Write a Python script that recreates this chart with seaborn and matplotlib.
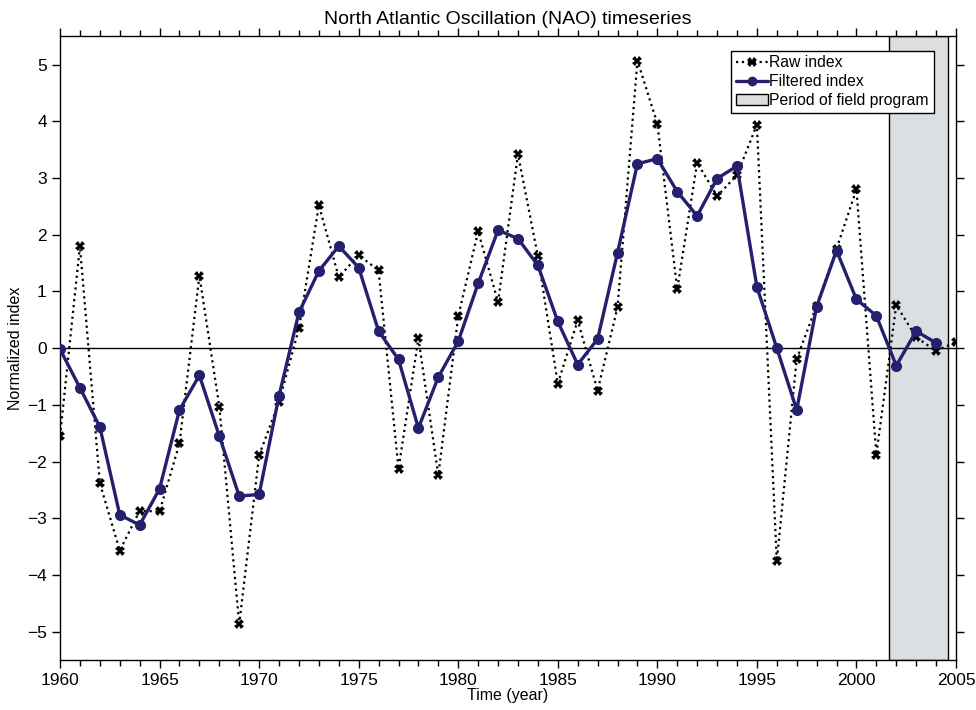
import numpy as np
import pandas as pd
import matplotlib
matplotlib.use("Agg")
import matplotlib.pyplot as plt
from matplotlib.lines import Line2D
from matplotlib.patches import Patch
from matplotlib.ticker import MultipleLocator
import seaborn as sns

# Winter NAO index, normalized
raw_years = list(range(1960, 2006))
raw_index = [-1.55, 1.80, -2.38, -3.57, -2.87, -2.88, -1.68, 1.28, -1.03, -4.87,
             -1.89, -0.95, 0.35, 2.52, 1.25, 1.64, 1.37, -2.13, 0.17, -2.24,
             0.56, 2.06, 0.81, 3.42, 1.62, -0.63, 0.49, -0.75, 0.72, 5.07,
             3.96, 1.04, 3.27, 2.68, 3.05, 3.94, -3.76, -0.19, 0.75, 1.75,
             2.80, -1.88, 0.76, 0.19, -0.05, 0.11]

filt_years = list(range(1960, 2005))
filt_index = [-0.02, -0.70, -1.39, -2.94, -3.12, -2.48, -1.09, -0.48, -1.55, -2.61,
              -2.58, -0.84, 0.63, 1.36, 1.80, 1.42, 0.30, -0.20, -1.41, -0.51,
              0.12, 1.14, 2.08, 1.93, 1.46, 0.47, -0.29, 0.16, 1.68, 3.25,
              3.34, 2.76, 2.33, 2.99, 3.21, 1.08, 0.00, -1.09, 0.73, 1.72,
              0.86, 0.57, -0.31, 0.30, 0.09]

field_period = [2001.65, 2004.6]

raw_df = pd.DataFrame({"year": raw_years, "index": raw_index})
filt_df = pd.DataFrame({"year": filt_years, "index": filt_index})

sns.set_style("ticks")
plt.rcParams["font.family"] = ["Liberation Sans", "DejaVu Sans"]
plt.rcParams["xtick.direction"] = "out"
plt.rcParams["ytick.direction"] = "out"
plt.rcParams["text.color"] = "black"
plt.rcParams["axes.labelcolor"] = "black"
plt.rcParams["xtick.color"] = "black"
plt.rcParams["ytick.color"] = "black"

navy = "#25206e"
band = "#dcdfe2"
fig = plt.figure(figsize=(9.76, 7.10), dpi=100)
ax = fig.add_axes([0.0615, 0.0704, 0.918, 0.8786])

# field program period
ax.axvspan(field_period[0], field_period[1], facecolor=band,
           edgecolor="black", linewidth=1.0, zorder=0)
ax.axhline(0, color="black", linewidth=1.0, zorder=1)

sns.lineplot(data=raw_df, x="year", y="index", ax=ax, color="black",
             linestyle=":", linewidth=1.6, marker="X", markersize=6.5,
             markeredgewidth=0, markerfacecolor="black", zorder=2,
             legend=False)
sns.lineplot(data=filt_df, x="year", y="index", ax=ax, color=navy,
             linewidth=2.4, marker="o", markersize=8, markeredgewidth=0,
             markerfacecolor=navy, zorder=3, legend=False)

ax.set_xlim(1960, 2005)
ax.set_ylim(-5.5, 5.5)
ax.xaxis.set_major_locator(MultipleLocator(5))
ax.xaxis.set_minor_locator(MultipleLocator(1))
ax.yaxis.set_major_locator(MultipleLocator(1))
ax.tick_params(axis="both", which="both", top=True, right=True,
               labelsize=12.5, color="black", width=1.0)
ax.tick_params(axis="both", which="major", length=6)
ax.tick_params(axis="x", which="minor", length=4)
for s in ax.spines.values():
    s.set_color("black")
    s.set_linewidth(1.0)

ax.set_yticks(range(-5, 6))
ax.set_yticklabels([str(v).replace("-", "\u2212") for v in range(-5, 6)])

ax.set_title("North Atlantic Oscillation (NAO) timeseries", fontsize=14, pad=9)
ax.set_xlabel("Time (year)", fontsize=11.5, labelpad=0)
ax.set_ylabel("Normalized index", fontsize=11.5, labelpad=3)

handles = [
    Line2D([], [], color="black", linestyle=":", linewidth=1.6, marker="X",
           markersize=6.5, markeredgewidth=0, markerfacecolor="black"),
    Line2D([], [], color=navy, linewidth=2.4, marker="o", markersize=7,
           markeredgewidth=0),
    Patch(facecolor=band, edgecolor="black", linewidth=1.0),
]
labels = ["Raw index", "Filtered index", "Period of field program"]
leg = ax.legend(handles, labels, loc="upper right", bbox_to_anchor=(0.975, 0.977),
                borderaxespad=0, fontsize=11.3, frameon=True, fancybox=False,
                framealpha=1, edgecolor="black", handlelength=2.0,
                handletextpad=0.12, labelspacing=0.25, borderpad=0.3)
leg.get_frame().set_linewidth(1.0)

fig.savefig("out.png", dpi=100)
